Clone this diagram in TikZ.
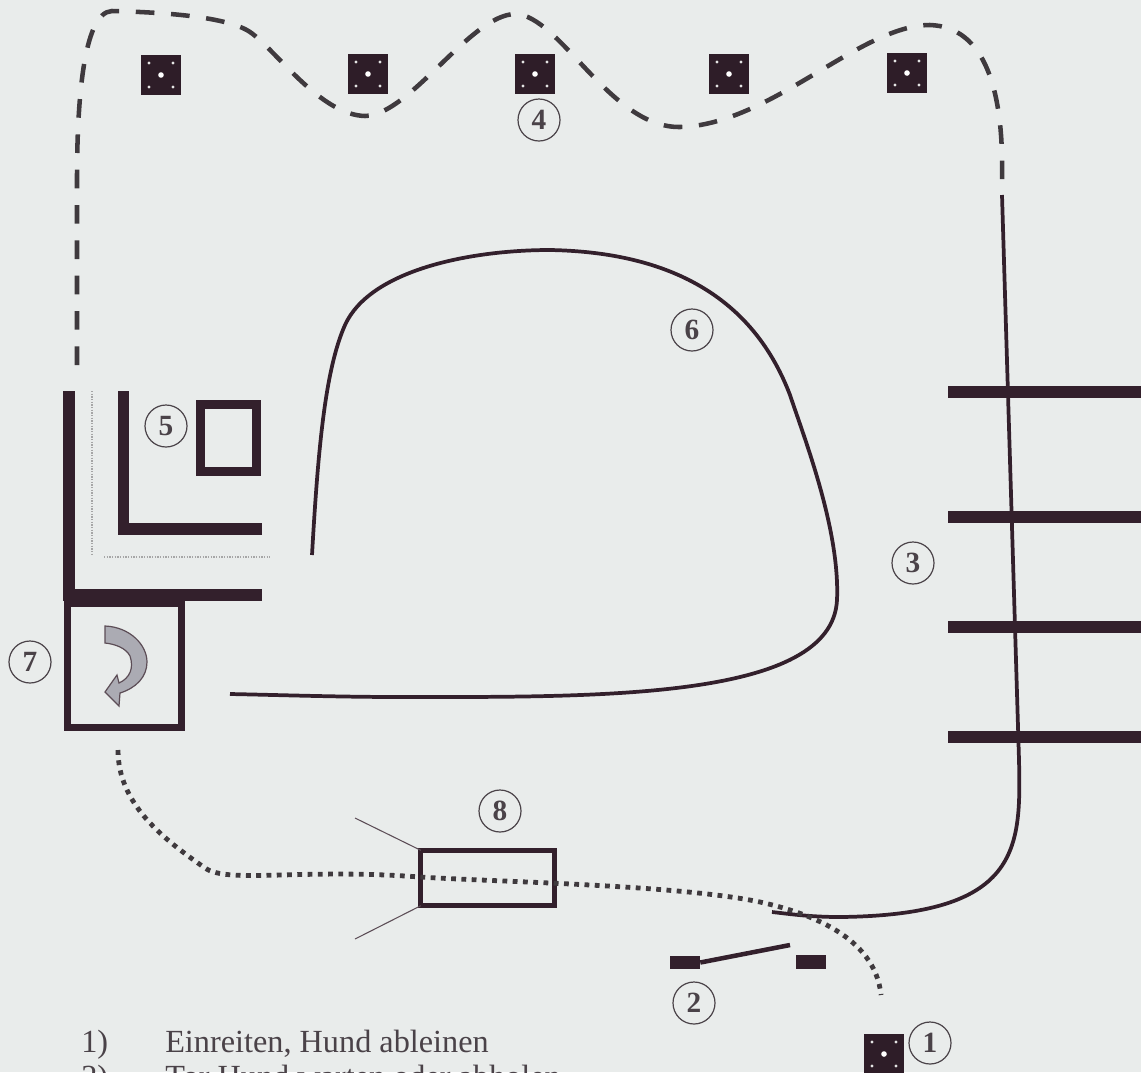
\documentclass[tikz,border=0pt]{standalone}
\usepackage{fontspec}
\setmainfont{Liberation Serif}
\usetikzlibrary{calc}
\definecolor{bgc}{HTML}{E9ECEB}
\definecolor{ink}{HTML}{33202C}
\definecolor{dashc}{HTML}{3F3A3E}
\definecolor{txt}{HTML}{4A4248}
\definecolor{arrowfill}{HTML}{ABABB3}
\tikzset{
  x=0.75pt,y=-0.75pt,
  wall/.style={draw=ink,line width=8.6pt,line cap=butt,line join=miter},
  track/.style={draw=ink,line width=2.8pt,line cap=butt},
  dashtrack/.style={draw=dashc,line width=3.4pt,dash pattern=on 14pt off 12.5pt,line cap=butt},
  dottrack/.style={draw=dashc,line width=3.6pt,dash pattern=on 3.6pt off 4.1pt},
  faint/.style={draw=gray!70,line width=1pt,dash pattern=on 1pt off 1pt},
  num/.style={circle,draw=txt,line width=0.9pt,minimum size=31.5pt,inner sep=0pt,font=\fontsize{22pt}{24pt}\selectfont\bfseries,text=txt},
  legend/.style={anchor=base west,inner sep=0pt,text=txt,font=\fontsize{24.2pt}{26pt}\selectfont},
  block/.style={fill=ink,minimum width=22.5pt,minimum height=10pt,inner sep=0pt},
}
\newcommand{\postmark}[2]{%
  \node[fill=ink!90!black,minimum size=30pt,inner sep=0pt] (#1) at #2 {};
  \fill[white] (#1.center) circle (2.8);
  \fill[white!80!gray] ($(#1.center)+(-12,-12)$) circle (1.7);
  \fill[white!80!gray] ($(#1.center)+(12,-12)$) circle (1.7);
  \fill[white!80!gray] ($(#1.center)+(-12,12)$) circle (1.7);
  \fill[white!80!gray] ($(#1.center)+(12,12)$) circle (1.7);
}
\begin{document}
\begin{tikzpicture}
\path[use as bounding box,fill=bgc] (0,0) rectangle (1141,1072);
\postmark{p1}{(161,75)}
\postmark{p2}{(368,74)}
\postmark{p3}{(535,74)}
\postmark{p4}{(729,74)}
\postmark{p5}{(907,73)}
\postmark{p6}{(884,1054)}
\draw[dashtrack] (77,365) -- (77,180) .. controls (77,110) and (82,12) .. (112,11)
 .. controls (150,12) and (225,15) .. (250,32)
 .. controls (275,49) and (320,115) .. (365,116)
 .. controls (410,115) and (470,15) .. (515,14)
 .. controls (560,15) and (610,128) .. (680,127)
 .. controls (770,125) and (860,25) .. (930,25)
 .. controls (985,27) and (1004,90) .. (1002,180);
\coordinate (st) at (1002,195);
\coordinate (se) at (772,912);
\draw[track] (st) -- (1019,760) .. controls (1021,850) and (1020,915) .. (840,917) .. controls (810,917) and (790,914) .. (se);
\foreach \yy/\nm in {392/a,517/b,627/c,737/d}{
  \coordinate (r\nm) at (948,\yy); \coordinate (s\nm) at (1141,\yy);
  \draw[draw=ink,line width=9.5pt] (r\nm) -- (s\nm);
}
\draw[track] (312,555) .. controls (318,450) and (325,370) .. (345,325)
 .. controls (370,270) and (470,250) .. (550,250)
 .. controls (660,252) and (750,290) .. (790,395)
 .. controls (805,440) and (840,530) .. (837,600)
 .. controls (832,700) and (600,697) .. (400,697)
 .. controls (340,697) and (280,695) .. (230,694);
\draw[wall] (69,391) -- (69,595) -- (262,595);
\draw[wall] (123.5,391) -- (123.5,529) -- (262,529);
\node[draw=ink,line width=6.5pt,minimum width=42.4pt,minimum height=50.6pt,inner sep=0pt,outer sep=0pt] (box5) at (228.5,438) {};
\node[draw=ink,line width=5.2pt,minimum width=85.5pt,minimum height=93pt,inner sep=0pt,outer sep=0pt] (box7) at (124.5,665.5) {};
\draw[faint] (92,391) -- (92,556);
\draw[faint] (104,557) -- (270,557);
\path[fill=arrowfill,draw=ink!80,line width=0.9pt]
 (105,626) .. controls (130,627) and (147,645) .. (147,662)
 .. controls (147,677) and (136,688) .. (120,693) -- (119,706) -- (105,692) -- (117,675) -- (119,683)
 .. controls (130,678) and (134,668) .. (130,656) .. controls (126,648) and (115,644) .. (105,643) -- cycle;
\node[draw=ink,line width=3.8pt,minimum width=100pt,minimum height=41.5pt,inner sep=0pt,outer sep=0pt] (box8) at (487.5,878) {};
\coordinate (w1) at (355,818); \coordinate (w2) at (355,939);
\draw[draw=ink!80,line width=0.8pt] (w1) -- (box8.north west);
\draw[draw=ink!80,line width=0.8pt] (w2) -- (box8.south west);
\draw[dottrack] (118,750) .. controls (118,805) and (165,840) .. (205,868)
 .. controls (228,884) and (300,868) .. (420,877)
 .. controls (500,882) and (680,885) .. (760,902)
 .. controls (805,912) and (875,935) .. (881,995);
\node[block] (g1) at (685,962.5) {};
\node[block] (g2) at (811,962) {};
\coordinate (g3) at (790,945);
\draw[draw=ink,line width=3.4pt] (g1.east) -- (g3);
\node[num] (n1) at (930,1043) {1};
\node[num] (n2) at (694,1003) {2};
\node[num] (n3) at (913,563) {3};
\node[num] (n4) at (539,120) {4};
\node[num] (n5) at (166,426) {5};
\node[num] (n6) at (692,330) {6};
\node[num] (n7) at (30,662) {7};
\node[num] (n8) at (500,811) {8};
\node[legend] (l1) at (81,1052) {1)};
\node[legend] (l1t) at (165,1052) {Einreiten, Hund ableinen};
\node[legend] (l2) at (81,1087) {2)};
\node[legend] (l2t) at (165,1087) {Tor Hund warten oder abholen};
\end{tikzpicture}
\end{document}
